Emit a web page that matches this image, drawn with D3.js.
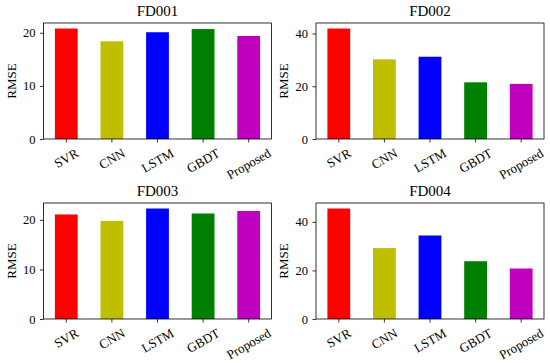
<!DOCTYPE html>
<html>
<head>
<meta charset="utf-8">
<script src="https://cdn.jsdelivr.net/npm/d3@7"></script>
<style>
  body { margin: 0; background: #fff; }
  svg text { font-family: "Liberation Serif", "Times New Roman", serif; fill: #000; }
</style>
</head>
<body>
<div id="chart"></div>
<script>
// data
var models = ['SVR', 'CNN', 'LSTM', 'GBDT', 'Proposed'];
var barColors = ['#ff0000', '#bfbf00', '#0000ff', '#008000', '#bf00bf'];

var titles = ['FD001', 'FD002', 'FD003', 'FD004'];
var fd001 = [20.8, 18.4, 20.1, 20.7, 19.4];
var fd002 = [41.9, 30.2, 31.2, 21.5, 20.9];
var fd003 = [21.1, 19.8, 22.3, 21.3, 21.8];
var fd004 = [45.5, 29.2, 34.4, 23.8, 20.8];
var yTicks = [[0, 10, 20], [0, 20, 40], [0, 10, 20], [0, 20, 40]];

var series = [fd001, fd002, fd003, fd004];

var svgWidth = 550;
var svgHeight = 363;

// axes boxes of the 2x2 grid
var cols = [43.5, 316];
var rows = [23, 203];
var labelX = [11, 283];
var width = 228;
var height = 116;

var svg = d3.select('#chart')
  .append('svg')
  .attr('width', svgWidth)
  .attr('height', svgHeight);

series.forEach(function(vals, i) {
  var left = cols[i % 2];
  var top = rows[Math.floor(i / 2)];

  var g = svg.append('g')
    .attr('transform', `translate(${left}, ${top})`);

  var x = d3.scaleBand()
    .domain(models)
    .range([0, width])
    .paddingInner(0.5)
    .paddingOuter(0.25);

  // matplotlib style 5% headroom
  var y = d3.scaleLinear()
    .domain([0, d3.max(vals) * 1.05])
    .range([height, 0]);

  // bars
  g.selectAll('rect.bar')
    .data(vals)
    .enter()
    .append('rect')
    .attr('class', 'bar')
    .attr('x', (d, j) => x(models[j]))
    .attr('y', d => y(d))
    .attr('width', x.bandwidth())
    .attr('height', d => height - y(d))
    .attr('fill', (d, j) => barColors[j]);

  // y axis
  var leftAxis = d3.axisLeft(y)
    .tickValues(yTicks[i])
    .tickSize(3.5)
    .tickPadding(4.5);
  var ya = g.append('g').call(leftAxis);
  ya.select('.domain').remove();
  ya.selectAll('line').attr('stroke', '#000').attr('stroke-width', 0.8);
  ya.selectAll('text').style('font-size', '12.5px');

  // x axis ticks
  var bottomAxis = d3.axisBottom(x)
    .tickSize(3.5)
    .tickFormat('');
  var xa = g.append('g')
    .attr('transform', `translate(0, ${height})`)
    .call(bottomAxis);
  xa.select('.domain').remove();
  xa.selectAll('line').attr('stroke', '#000').attr('stroke-width', 0.8);

  // rotated tick labels, bbox centred on the tick
  models.forEach(function(m) {
    var cx = x(m) + x.bandwidth() / 2;
    var t = g.append('text')
      .style('font-size', '13px')
      .attr('text-anchor', 'middle')
      .attr('dominant-baseline', 'central')
      .text(m);
    var w = t.node().getComputedTextLength();
    var fh = 13 * 0.85;
    var bh = w * Math.sin(Math.PI / 6) + fh * Math.cos(Math.PI / 6);
    t.attr('transform', `translate(${cx}, ${height + 8 + bh / 2}) rotate(-30)`);
  });

  // frame
  g.append('rect')
    .attr('width', width)
    .attr('height', height)
    .attr('fill', 'none')
    .attr('stroke', '#000')
    .attr('stroke-width', 0.8);

  // title
  g.append('text')
    .attr('x', width / 2)
    .attr('y', -7)
    .attr('text-anchor', 'middle')
    .style('font-size', '15px')
    .text(titles[i]);

  // y label
  g.append('text')
    .attr('transform', `translate(${labelX[i % 2] - left}, ${height / 2}) rotate(-90)`)
    .attr('text-anchor', 'middle')
    .attr('dominant-baseline', 'central')
    .style('font-size', '13px')
    .text('RMSE');
});
</script>
</body>
</html>
